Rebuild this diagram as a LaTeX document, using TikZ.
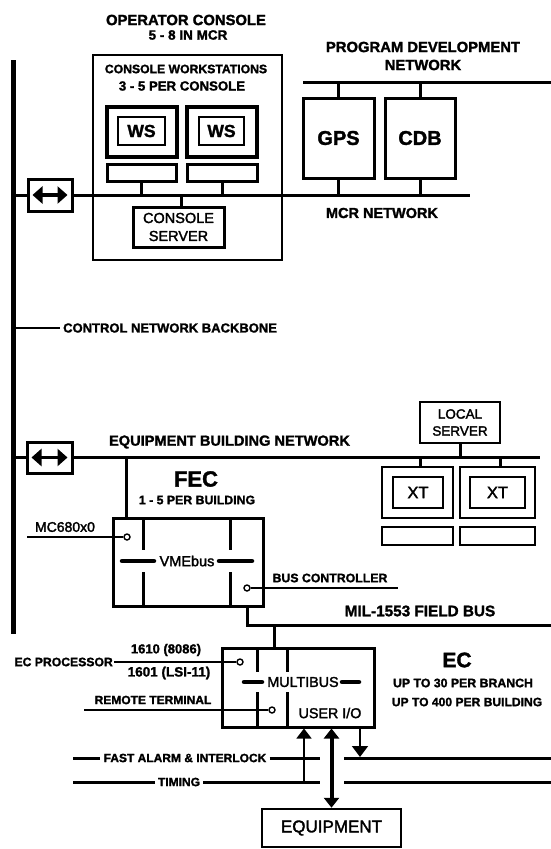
\documentclass[tikz,border=0pt]{standalone}
\usepackage{fontspec}
\setmainfont{Liberation Sans}[BoldFeatures={FakeBold=1.6}]
\newfontfamily\medf{Liberation Sans}[UprightFeatures={FakeBold=2}]
\usetikzlibrary{arrows.meta}
\newcommand\fsz[1]{\fontsize{#1}{#1}\selectfont}
\begin{document}
\begin{tikzpicture}[x=1pt,y=-1pt,
  hvy/.style={draw,line width=3pt,inner sep=0pt},
  med/.style={draw,line width=2.2pt,inner sep=0pt},
  thn/.style={draw,line width=1.3pt,inner sep=0pt},
  bus/.style={line width=3pt},
  wire/.style={line width=1.4pt},
  lbl/.style={inner sep=0pt,font=\bfseries},
  rlb/.style={inner sep=0pt,font=\medf},
  port/.style={circle,draw,line width=1.4pt,fill=white,minimum size=6pt,inner sep=0pt},
  bar/.style={line width=3pt},
  dsh/.style={line width=4.5pt,line cap=round},
  brarrow/.style={line width=3.5pt,{Triangle[length=10pt,width=17pt]}-{Triangle[length=10pt,width=17pt]}},
]
\useasboundingbox (0,0) rectangle (551,849);

% ---------- backbone
\coordinate (bbT) at (13,60);
\coordinate (bbB) at (13,634);
\draw[line width=5pt] (bbT) -- (bbB);
\coordinate (cnbT) at (15,328);
\node[lbl,anchor=west] (cnb) at (63,328) {\fsz{13}CONTROL NETWORK BACKBONE};
\draw[wire] (cnbT) -- ([xshift=-3pt]cnb.west);

% ---------- operator console
\node[lbl] (opc) at (186,20) {\fsz{14.8}OPERATOR CONSOLE};
\node[lbl] (opc2) at (188,35) {\fsz{13.5}5 - 8 IN MCR};
\node[thn,minimum width=189pt,minimum height=205pt] (cons) at (187.5,157.5) {};
\node[lbl] (cw) at (186,69) {\fsz{12.2}CONSOLE WORKSTATIONS};
\node[lbl] (cw2) at (182,86) {\fsz{13.2}3 - 5 PER CONSOLE};

\node[draw,line width=3.5pt,minimum width=70pt,minimum height=50pt,inner sep=0pt] (mon1) at (142,132) {};
\node[med,minimum width=47pt,minimum height=28pt,font=\bfseries\fsz{17.5}] (ws1) at (141.5,131) {WS};
\node[draw,line width=3.5pt,minimum width=70pt,minimum height=50pt,inner sep=0pt] (mon2) at (222,132) {};
\node[med,minimum width=45pt,minimum height=28pt,font=\bfseries\fsz{17.5}] (ws2) at (221.5,131) {WS};
\node[hvy,minimum width=69pt,minimum height=17pt] (kb1) at (141.5,172.5) {};
\node[hvy,minimum width=70pt,minimum height=17pt] (kb2) at (222,172.5) {};
\node[hvy,minimum width=91pt,minimum height=40pt,align=center,font=\medf\fontsize{14.5}{18}\selectfont] (srv) at (178.5,227) {CONSOLE\\SERVER};

% ---------- MCR network
\node[hvy,minimum width=44pt,minimum height=32pt] (br1) at (50,195) {};
\draw[brarrow] ([xshift=6pt]br1.west) -- ([xshift=-6pt]br1.east);
\coordinate (mcrL) at (13,195);
\coordinate (mcrR) at (470,195);
\draw[bus] (mcrL) -- (br1.west);
\draw[bus] (br1.east) -- (mcrR);
\draw[bus] (kb1.south) -- (kb1.south |- mcrL);
\draw[bus] (kb2.south) -- (kb2.south |- mcrL);
\draw[bus] ([xshift=2.5pt]srv.north) -- ([xshift=2.5pt]srv.north |- mcrL);
\node[lbl] (mcrlab) at (382,213) {\fsz{14.5}MCR NETWORK};

% ---------- program development network
\node[lbl,align=center,font=\bfseries\fontsize{14.8}{18}\selectfont] (pdn) at (423,56) {PROGRAM DEVELOPMENT\\NETWORK};
\coordinate (pdnL) at (303,82);
\coordinate (pdnR) at (551,82);
\draw[bus] (pdnL) -- (pdnR);
\node[hvy,minimum width=71pt,minimum height=80pt,font=\bfseries\fsz{20}] (gps) at (338.5,138) {GPS};
\node[hvy,minimum width=70pt,minimum height=80pt,font=\bfseries\fsz{20}] (cdb) at (420,138) {CDB};
\draw[bus] (gps.north) -- (gps.north |- pdnL);
\draw[bus] (cdb.north) -- (cdb.north |- pdnL);
\draw[bus] (gps.south) -- (gps.south |- mcrL);
\draw[bus] (cdb.south) -- (cdb.south |- mcrL);

% ---------- equipment building network
\node[hvy,minimum width=45pt,minimum height=31pt] (br2) at (49.5,457.5) {};
\draw[brarrow] ([xshift=6pt]br2.west) -- ([xshift=-6pt]br2.east);
\coordinate (ebnL) at (13,457.5);
\coordinate (ebnR) at (540,457.5);
\draw[bus] (ebnL) -- (br2.west);
\draw[bus] (br2.east) -- (ebnR);
\node[lbl] (ebnlab) at (229.5,442) {\fsz{14.6}EQUIPMENT BUILDING NETWORK};

\node[draw,line width=2.5pt,inner sep=0pt,minimum width=80pt,minimum height=41pt,align=center,font=\medf\fontsize{13.5}{17}\selectfont] (ls) at (460,422.5) {LOCAL\\SERVER};
\draw[bus] (ls.south) -- (ls.south |- ebnL);

\node[draw,line width=2.8pt,inner sep=0pt,minimum width=71pt,minimum height=51pt] (xm1) at (417.5,492.5) {};
\node[draw,line width=2pt,inner sep=0pt,minimum width=50pt,minimum height=31pt,font=\medf\fsz{16.5}] (xt1) at (418,492.5) {XT};
\node[draw,line width=2.8pt,inner sep=0pt,minimum width=75pt,minimum height=51pt] (xm2) at (497.5,492.5) {};
\node[draw,line width=2pt,inner sep=0pt,minimum width=55pt,minimum height=31pt,font=\medf\fsz{16.5}] (xt2) at (497.5,492.5) {XT};
\node[draw,line width=2.5pt,inner sep=0pt,minimum width=71pt,minimum height=18pt] (xk1) at (417.5,536) {};
\node[draw,line width=2.5pt,inner sep=0pt,minimum width=75pt,minimum height=18pt] (xk2) at (497.5,536) {};
\draw[bus] ([xshift=2.5pt]xm1.north) -- ([xshift=2.5pt]xm1.north |- ebnL);
\draw[bus] ([xshift=2.5pt]xm2.north) -- ([xshift=2.5pt]xm2.north |- ebnL);

% ---------- FEC
\node[lbl] (feclab) at (196,479) {\fsz{22}FEC};
\node[lbl] (feclab2) at (197,500) {\fsz{12.3}1 - 5 PER BUILDING};
\node[hvy,minimum width=150pt,minimum height=88pt] (fec) at (188,562) {};
\draw[bus] ([xshift=15pt]fec.north west) -- ([xshift=15pt]fec.north west |- ebnL);
\draw[bar] (143,518) -- (143,550);
\draw[bar] (143,572) -- (143,606);
\draw[bar] (230,518) -- (230,550);
\draw[bar] (230,572) -- (230,606);
\node[rlb,font=\medf\fsz{14.5}] (vme) at (187,561) {VMEbus};
\draw[dsh] (122,561) -- (154,561);
\draw[dsh] (219,561) -- (252,561);

\node[port] (p1) at (127,537) {};
\coordinate (mcL) at (27,537);
\draw[wire] (mcL) -- (p1.west);
\node[rlb,font=\medf\fsz{14}] (mclab) at (65,527) {MC680x0};

\node[port] (p2) at (247,588) {};
\coordinate (bcR) at (398,588);
\draw[wire] (p2.east) -- (bcR);
\node[lbl] (bclab) at (330,578) {\fsz{12.3}BUS CONTROLLER};

% ---------- MIL-1553
\coordinate (milC) at (247,625);
\coordinate (milR) at (551,625);
\draw[bus] (fec.south -| milC) -- (milC) -- (milR);
\node[lbl] (millab) at (420,611) {\fsz{15.3}MIL-1553 FIELD BUS};

% ---------- EC
\node[hvy,minimum width=152pt,minimum height=79pt] (ec) at (298,687.5) {};
\coordinate (ecT) at (274,625);
\draw[bus] (ecT) -- (ecT |- ec.north);
\draw[bar] (257,648) -- (257,672);
\draw[bar] (257,692) -- (257,727);
\draw[bar] (287,648) -- (287,672);
\draw[bar] (287,692) -- (287,727);
\node[rlb,font=\medf\fsz{14.3}] (mb) at (303,682) {MULTIBUS};
\draw[dsh] (244,682) -- (262,682);
\draw[dsh] (342,682) -- (359,682);
\node[rlb,font=\medf\fsz{14.3}] (uio) at (330,713) {USER I/O};

\node[port] (p3) at (240,662) {};
\node[lbl,anchor=east] (ecp) at (113,662) {\fsz{12.2}EC PROCESSOR};
\draw[line width=1.8pt] ([xshift=1pt]ecp.east) -- (p3.west);
\node[lbl] (cpu1) at (166,650) {\fsz{13}1610 (8086)};
\node[lbl] (cpu2) at (169,673) {\fsz{13.5}1601 (LSI-11)};

\node[port] (p4) at (272,710) {};
\coordinate (rtL) at (84,710);
\draw[wire] (rtL) -- (p4.west);
\node[lbl] (rtlab) at (153,700) {\fsz{12}REMOTE TERMINAL};

\node[lbl] (eclab) at (457,660) {\fsz{21}EC};
\node[lbl] (eclab2) at (463,683) {\fsz{12.3}UP TO 30 PER BRANCH};
\node[lbl] (eclab3) at (467,702) {\fsz{12.1}UP TO 400 PER BUILDING};

% ---------- fast alarm & timing
\node[lbl] (fa) at (185,758) {\fsz{12}FAST ALARM \& INTERLOCK};
\coordinate (faL) at (73,758);
\coordinate (faM) at (320,758);
\coordinate (faR1) at (344,758);
\coordinate (faR2) at (551,758);
\draw[bus] (faL) -- ([xshift=-3pt]fa.west);
\draw[bus] ([xshift=3pt]fa.east) -- (faM);
\draw[bus] (faR1) -- (faR2);

\node[lbl] (tm) at (179,782) {\fsz{12}TIMING};
\coordinate (tmL) at (73,782);
\coordinate (tmM) at (320,782);
\coordinate (tmR1) at (344,782);
\coordinate (tmR2) at (551,782);
\draw[bus] (tmL) -- ([xshift=-3pt]tm.west);
\draw[bus] ([xshift=3pt]tm.east) -- (tmM);
\draw[bus] (tmR1) -- (tmR2);

% ---------- equipment and arrows
\node[draw,line width=2.5pt,inner sep=0pt,minimum width=139pt,minimum height=38pt,font=\medf\fsz{17}] (eq) at (331.5,828) {EQUIPMENT};
\coordinate (up) at (304,782);
\draw[line width=1.6pt,-{Triangle[length=10pt,width=15pt]}] (up) -- (up |- ec.south);
\draw[line width=4pt,{Triangle[length=10pt,width=15pt]}-{Triangle[length=10pt,width=15pt]}] (ec.south -| eq.north) -- (eq.north);
\coordinate (dn) at (360,757);
\draw[line width=1.6pt,-{Triangle[length=11pt,width=16pt]}] (dn |- ec.south) -- (dn);
\end{tikzpicture}
\end{document}
